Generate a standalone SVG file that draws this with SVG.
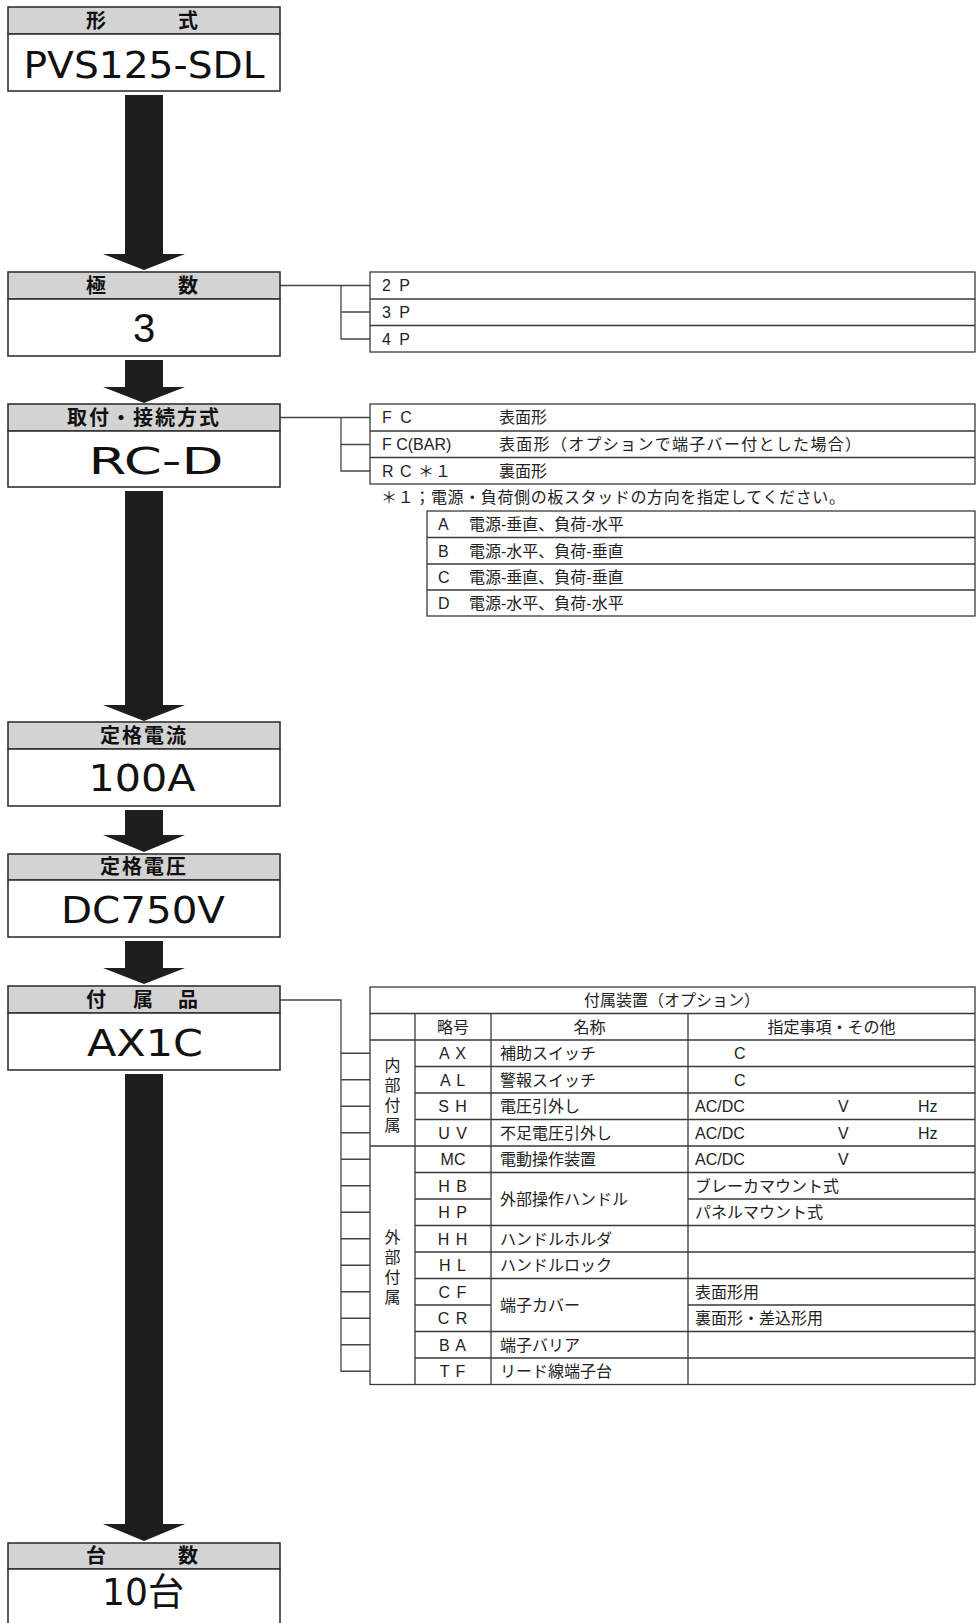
<svg xmlns="http://www.w3.org/2000/svg" width="977" height="1623" viewBox="0 0 977 1623">
<style>
.hdr{fill:#d3d3d3;stroke:#333;stroke-width:1.6}
.bdy{fill:#fff;stroke:#333;stroke-width:1.6}
.ht{font-family:"Noto Sans CJK JP",sans-serif;font-weight:bold;font-size:20px;fill:#111;text-anchor:middle;letter-spacing:2px}
.bt{font-family:"DejaVu Sans","Noto Sans CJK JP",sans-serif;font-size:38px;fill:#111;text-anchor:middle}
.arr{fill:#1e1e1e}
.ln{fill:none;stroke:#3a3a3a;stroke-width:1.3}
.cn{fill:none;stroke:#444;stroke-width:1.3}
.tx{font-family:"Liberation Sans","Noto Sans CJK JP",sans-serif;font-size:16px;fill:#222}
.tc{font-family:"Liberation Sans","Noto Sans CJK JP",sans-serif;font-size:16px;fill:#222;text-anchor:middle}
</style>

<g id="connectors">
  <path class="arr" d="M125,95 H163 V254 H185 L144,270 L103,254 H125 Z"/>
  <path class="arr" d="M125,360 H163 V387 H185 L144,403 L103,387 H125 Z"/>
  <path class="arr" d="M125,491 H163 V705 H185 L144,721 L103,705 H125 Z"/>
  <path class="arr" d="M125,810 H163 V835 H185 L144,852 L103,835 H125 Z"/>
  <path class="arr" d="M125,941 H163 V968 H185 L144,984 L103,968 H125 Z"/>
  <path class="arr" d="M125,1074 H163 V1524 H185 L144,1541 L103,1524 H125 Z"/>
  <path class="cn" d="M280,285.5 H370 M341,285.5 V339 H370 M341,312 H370"/>
  <path class="cn" d="M280,417.5 H370 M341,417.5 V471 H370 M341,444.5 H370"/>
  <path class="cn" d="M280,1000 H341 V1371.25 H370 M341,1053.25 H370 M341,1079.75 H370 M341,1106.25 H370 M341,1132.75 H370 M341,1159.25 H370 M341,1185.75 H370 M341,1212.25 H370 M341,1238.75 H370 M341,1265.25 H370 M341,1291.75 H370 M341,1318.25 H370 M341,1344.75 H370"/>
</g>

<g id="node-katashiki">
  <rect class="hdr" x="8" y="7" width="272" height="27"/>
  <rect class="bdy" x="8" y="34" width="272" height="57"/>
  <text class="ht" x="97" y="28">形</text>
  <text class="ht" x="189" y="28">式</text>
  <text class="bt" x="144" y="78" textLength="241" lengthAdjust="spacingAndGlyphs">PVS125-SDL</text>
</g>

<g id="node-kyokusu">
  <rect class="hdr" x="8" y="272" width="272" height="27"/>
  <rect class="bdy" x="8" y="299" width="272" height="57"/>
  <text class="ht" x="97" y="293">極</text>
  <text class="ht" x="189" y="293">数</text>
  <text class="bt" x="144" y="342" style="font-family:'Liberation Sans',sans-serif;font-size:40px">3</text>
</g>

<g id="opt-kyokusu">
  <rect class="ln" x="370" y="272" width="605" height="80"/>
  <path class="ln" d="M370,299 H975 M370,325.5 H975"/>
  <text class="tx" x="382" y="291" letter-spacing="2">2 P</text>
  <text class="tx" x="382" y="318" letter-spacing="2">3 P</text>
  <text class="tx" x="382" y="344.5" letter-spacing="2">4 P</text>
</g>

<g id="node-toritsuke">
  <rect class="hdr" x="8" y="404" width="272" height="27"/>
  <rect class="bdy" x="8" y="431" width="272" height="56"/>
  <text class="ht" x="144" y="425">取付・接続方式</text>
  <text class="bt" x="156" y="474" textLength="135" lengthAdjust="spacingAndGlyphs">RC-D</text>
</g>

<g id="opt-toritsuke">
  <rect class="ln" x="370" y="404" width="605" height="80"/>
  <path class="ln" d="M370,431 H975 M370,457.5 H975"/>
  <text class="tx" x="382" y="423" letter-spacing="2">F C</text>
  <text class="tx" x="499" y="423">表面形</text>
  <text class="tx" x="382" y="450">F C(BAR)</text>
  <text class="tx" x="499" y="450" textLength="362">表面形（オプションで端子バー付とした場合）</text>
  <text class="tx" x="382" y="476.5" letter-spacing="1">R C ＊１</text>
  <text class="tx" x="499" y="476.5">裏面形</text>
  <text class="tx" x="381" y="503" textLength="464">＊１；電源・負荷側の板スタッドの方向を指定してください。</text>
  <rect class="ln" x="427" y="511" width="548" height="105"/>
  <path class="ln" d="M427,537.5 H975 M427,564 H975 M427,590 H975"/>
  <text class="tx" x="438" y="530">A</text>
  <text class="tx" x="469" y="530">電源-垂直、負荷-水平</text>
  <text class="tx" x="438" y="556.5">B</text>
  <text class="tx" x="469" y="556.5">電源-水平、負荷-垂直</text>
  <text class="tx" x="438" y="583">C</text>
  <text class="tx" x="469" y="583">電源-垂直、負荷-垂直</text>
  <text class="tx" x="438" y="609">D</text>
  <text class="tx" x="469" y="609">電源-水平、負荷-水平</text>
</g>

<g id="node-teikaku-denryu">
  <rect class="hdr" x="8" y="722" width="272" height="27"/>
  <rect class="bdy" x="8" y="749" width="272" height="57"/>
  <text class="ht" x="144" y="743">定格電流</text>
  <text class="bt" x="142" y="791" textLength="107" lengthAdjust="spacingAndGlyphs">100A</text>
</g>

<g id="node-teikaku-denatsu">
  <rect class="hdr" x="8" y="854" width="272" height="26"/>
  <rect class="bdy" x="8" y="880" width="272" height="57"/>
  <text class="ht" x="144" y="874">定格電圧</text>
  <text class="bt" x="143" y="923" textLength="164" lengthAdjust="spacingAndGlyphs">DC750V</text>
</g>

<g id="node-fuzokuhin">
  <rect class="hdr" x="8" y="986" width="272" height="27"/>
  <rect class="bdy" x="8" y="1013" width="272" height="57"/>
  <text class="ht" x="97" y="1007">付</text>
  <text class="ht" x="144" y="1007">属</text>
  <text class="ht" x="189" y="1007">品</text>
  <text class="bt" x="145" y="1056" textLength="116" lengthAdjust="spacingAndGlyphs">AX1C</text>
</g>

<g id="table-fuzoku">
  <rect class="ln" x="370" y="987" width="605" height="397.5"/>
  <path class="ln" d="M370,1013.5 H975 M370,1040 H975 M415,1066.5 H975 M415,1093 H975 M415,1119.5 H975 M370,1146 H975 M415,1172.5 H975 M415,1199 H491 M688,1199 H975 M415,1225.5 H975 M415,1252 H975 M415,1278.5 H975 M415,1305 H491 M688,1305 H975 M415,1331.5 H975 M415,1358 H975 M415,1013.5 V1384.5 M491,1013.5 V1384.5 M688,1013.5 V1384.5"/>
  <text class="tc" x="672" y="1006">付属装置（オプション）</text>
  <text class="tc" x="453" y="1032.5">略号</text>
  <text class="tc" x="589.5" y="1032.5">名称</text>
  <text class="tc" x="831.5" y="1032.5">指定事項・その他</text>
  <text class="tc" x="392.5" y="1071">内</text>
  <text class="tc" x="392.5" y="1091">部</text>
  <text class="tc" x="392.5" y="1111">付</text>
  <text class="tc" x="392.5" y="1131">属</text>
  <text class="tc" x="392.5" y="1243">外</text>
  <text class="tc" x="392.5" y="1263">部</text>
  <text class="tc" x="392.5" y="1283">付</text>
  <text class="tc" x="392.5" y="1303">属</text>
  <text class="tc" x="453" y="1059" letter-spacing="1">A X</text>
  <text class="tx" x="500" y="1059">補助スイッチ</text>
  <text class="tx" x="734" y="1059">C</text>
  <text class="tc" x="453" y="1085.5" letter-spacing="1">A L</text>
  <text class="tx" x="500" y="1085.5">警報スイッチ</text>
  <text class="tx" x="734" y="1085.5">C</text>
  <text class="tc" x="453" y="1112" letter-spacing="1">S H</text>
  <text class="tx" x="500" y="1112">電圧引外し</text>
  <text class="tx" x="695" y="1112">AC/DC</text>
  <text class="tx" x="838" y="1112">V</text>
  <text class="tx" x="918" y="1112">Hz</text>
  <text class="tc" x="453" y="1138.5" letter-spacing="1">U V</text>
  <text class="tx" x="500" y="1138.5">不足電圧引外し</text>
  <text class="tx" x="695" y="1138.5">AC/DC</text>
  <text class="tx" x="838" y="1138.5">V</text>
  <text class="tx" x="918" y="1138.5">Hz</text>
  <text class="tc" x="453" y="1165">MC</text>
  <text class="tx" x="500" y="1165">電動操作装置</text>
  <text class="tx" x="695" y="1165">AC/DC</text>
  <text class="tx" x="838" y="1165">V</text>
  <text class="tc" x="453" y="1191.5" letter-spacing="1">H B</text>
  <text class="tx" x="695" y="1191.5">ブレーカマウント式</text>
  <text class="tc" x="453" y="1218" letter-spacing="1">H P</text>
  <text class="tx" x="695" y="1218">パネルマウント式</text>
  <text class="tx" x="500" y="1205">外部操作ハンドル</text>
  <text class="tc" x="453" y="1244.5" letter-spacing="1">H H</text>
  <text class="tx" x="500" y="1244.5">ハンドルホルダ</text>
  <text class="tc" x="453" y="1271" letter-spacing="1">H L</text>
  <text class="tx" x="500" y="1271">ハンドルロック</text>
  <text class="tc" x="453" y="1297.5" letter-spacing="1">C F</text>
  <text class="tx" x="695" y="1297.5">表面形用</text>
  <text class="tc" x="453" y="1324" letter-spacing="1">C R</text>
  <text class="tx" x="695" y="1324">裏面形・差込形用</text>
  <text class="tx" x="500" y="1311">端子カバー</text>
  <text class="tc" x="453" y="1350.5" letter-spacing="1">B A</text>
  <text class="tx" x="500" y="1350.5">端子バリア</text>
  <text class="tc" x="453" y="1377" letter-spacing="1">T F</text>
  <text class="tx" x="500" y="1377">リード線端子台</text>
</g>

<g id="node-daisu">
  <rect class="hdr" x="8" y="1543" width="272" height="26"/>
  <rect class="bdy" x="8" y="1569" width="272" height="70"/>
  <text class="ht" x="97" y="1563">台</text>
  <text class="ht" x="189" y="1563">数</text>
  <text class="bt" x="143" y="1605" textLength="82" lengthAdjust="spacingAndGlyphs">10台</text>
</g>
</svg>
